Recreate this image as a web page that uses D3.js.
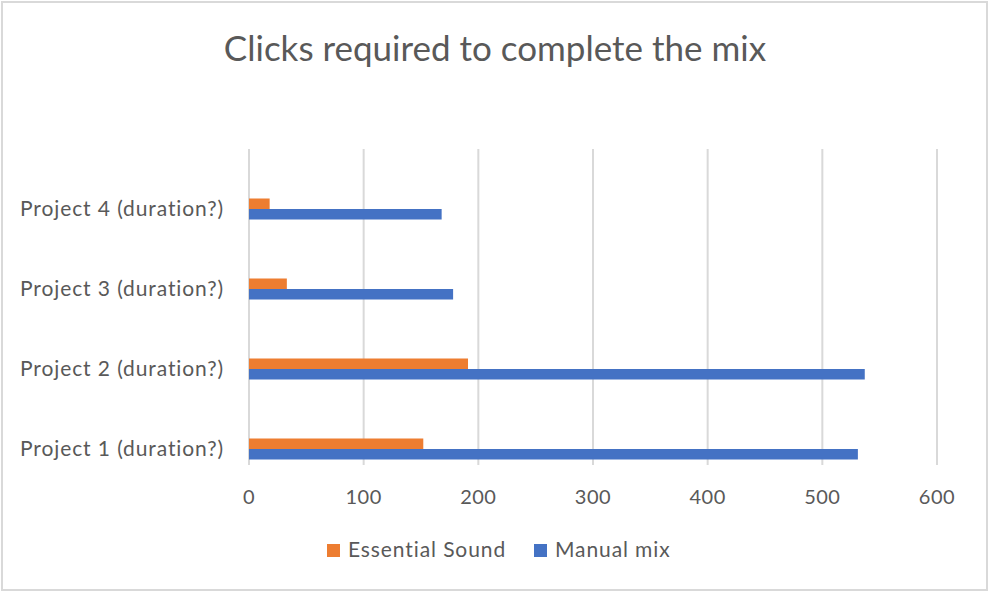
<!DOCTYPE html>
<html>
<head>
<meta charset="utf-8">
<script src="https://cdn.jsdelivr.net/npm/d3@7"></script>
<style>
  body { margin: 0; background: #fff; }
  text { font-family: Lato, "Open Sans", sans-serif; fill: #595959; }
</style>
</head>
<body>
<script>
// data
const categories = ['Project 1 (duration?)', 'Project 2 (duration?)', 'Project 3 (duration?)', 'Project 4 (duration?)'];
const seriesNames = ['Essential Sound', 'Manual mix'];
const essentialSound = [152, 191, 33, 18];
const manualMix = [531, 537, 178, 168];
const xTicks = [0, 100, 200, 300, 400, 500, 600];
const colors = ['#ED7D31', '#4472C4'];

const width = 989, height = 593;

const svg = d3.select('body').append('svg')
    .attr('width', width)
    .attr('height', height);

// chart border
svg.append('rect')
    .attr('x', 2).attr('y', 2)
    .attr('width', width - 4).attr('height', height - 5)
    .attr('fill', '#fff')
    .attr('stroke', '#d9d9d9')
    .attr('stroke-width', 2);

svg.append('text')
    .attr('x', 495).attr('y', 61)
    .attr('text-anchor', 'middle')
    .style('font-size', '35px')
    .text('Clicks required to complete the mix');

const x = d3.scaleLinear().domain([0, 600]).range([249, 937]);

// Excel draws the first category at the bottom
const y = d3.scaleBand()
    .domain(categories.slice().reverse())
    .range([169, 489]);

const sub = d3.scaleBand()
    .domain(seriesNames)
    .range([-10.5, 10.5]);

// vertical gridlines
svg.append('g').selectAll('line')
    .data(xTicks)
    .enter().append('line')
    .attr('x1', d => x(d)).attr('x2', d => x(d))
    .attr('y1', 149).attr('y2', 465)
    .attr('stroke', '#d9d9d9')
    .attr('stroke-width', 2);

// x tick labels
svg.append('g').selectAll('text')
    .data(xTicks)
    .enter().append('text')
    .attr('x', d => x(d))
    .attr('y', 504)
    .attr('text-anchor', 'middle')
    .style('font-size', '20px')
    .style('letter-spacing', '0.5px')
    .text(d => d);

// category labels
svg.append('g').selectAll('text')
    .data(categories)
    .enter().append('text')
    .attr('x', 224)
    .attr('y', d => y(d) + y.bandwidth() / 2)
    .attr('dy', '0.35em')
    .attr('text-anchor', 'end')
    .style('font-size', '21px')
    .style('letter-spacing', '0.9px')
    .text(d => d);

const series = [essentialSound, manualMix];
series.forEach((vals, si) => {
  svg.append('g').selectAll('rect')
      .data(vals)
      .enter().append('rect')
      .attr('x', x(0))
      .attr('y', (d, i) => y(categories[i]) + y.bandwidth() / 2 + sub(seriesNames[si]))
      .attr('width', d => x(d) - x(0))
      .attr('height', sub.bandwidth())
      .attr('fill', colors[si]);
});

// legend
const legendX = [327, 534];
const legend = svg.append('g').selectAll('g')
    .data(seriesNames)
    .enter().append('g')
    .attr('transform', (d, i) => `translate(${legendX[i]},550)`);

legend.append('rect')
    .attr('x', 0).attr('y', -6)
    .attr('width', 13).attr('height', 13)
    .attr('fill', (d, i) => colors[i]);

legend.append('text')
    .attr('x', 21)
    .attr('dy', '0.35em')
    .style('font-size', '21px')
    .style('letter-spacing', '0.9px')
    .text(d => d);
</script>
</body>
</html>
